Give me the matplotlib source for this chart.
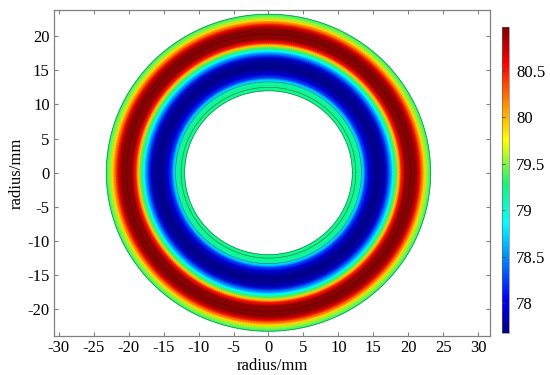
import numpy as np
import matplotlib
matplotlib.use("Agg")
import matplotlib.pyplot as plt
from matplotlib.colors import Normalize, LinearSegmentedColormap

plt.rcParams['font.family'] = ['Liberation Serif', 'DejaVu Serif']

# radial temperature profile (radius in mm, value)
radius = [12.0, 12.7, 13.2, 13.5, 13.9, 14.4, 15.2, 16.0, 16.8, 17.3, 17.8,
          18.2, 18.6, 19.0, 19.5, 20.3, 21.0, 21.5, 21.9, 22.3, 22.7, 23.2]
value = [79.22, 79.2, 79.1, 78.75, 78.25, 77.92, 77.72, 77.72, 77.88, 78.35, 78.85,
         79.35, 79.9, 80.5, 80.85, 80.95, 80.9, 80.7, 80.3, 79.9, 79.55, 79.25]
# domain boundary circles
boundaries = [12.0, 12.5, 13.3, 19.7, 20.3, 20.9, 23.2]

xticks = list(range(-30, 31, 5))
yticks = list(range(-20, 21, 5))
cbar_ticks = [78, 78.5, 79, 79.5, 80, 80.5]
vmin, vmax = 77.68, 80.97

# rainbow map close to the one in the picture (jet with a stronger green)
rainbow = LinearSegmentedColormap.from_list('rainbow_like', [
    (0.0, (0.0, 0.0, 0.5)),
    (0.11, (0.0, 0.0, 1.0)),
    (0.36, (0.0, 1.0, 1.0)),
    (0.49, (0.1, 0.95, 0.45)),
    (0.63, (1.0, 1.0, 0.0)),
    (0.75, (1.0, 0.55, 0.0)),
    (0.88, (1.0, 0.0, 0.0)),
    (1.0, (0.5, 0.0, 0.0)),
])

fig = plt.figure(figsize=(5.5, 3.75), dpi=100)
ax = fig.add_axes([0.098, 0.104, 0.793, 0.869])

# build the polar mesh from the profile
theta = np.linspace(0, 2 * np.pi, 361)
R, TH = np.meshgrid(np.array(radius), theta)
C, _ = np.meshgrid(np.array(value), theta)
X = R * np.cos(TH)
Y = R * np.sin(TH)
mesh = ax.pcolormesh(X, Y, C, cmap=rainbow, norm=Normalize(vmin, vmax), shading='gouraud')

for r in boundaries:
    ax.plot(r * np.cos(theta), r * np.sin(theta), color='#202020', lw=0.4, alpha=0.6)

ax.set_xlim(-30.7, 31.7)
ax.set_ylim(-23.9, 23.8)
ax.set_xticks(xticks)
ax.set_yticks(yticks)
ax.tick_params(direction='in', top=True, right=True, length=3, color='#808080',
               labelsize=12, pad=3)
ax.set_xticklabels([str(t) for t in xticks])
ax.set_yticklabels([str(t) for t in yticks])
for s in ax.spines.values():
    s.set_color('#808080')
    s.set_linewidth(0.9)
ax.set_xlabel('radius/mm', fontsize=12, labelpad=1)
ax.set_ylabel('radius/mm', fontsize=12, labelpad=2)

cax = fig.add_axes([0.913, 0.112, 0.0127, 0.816])
cb = fig.colorbar(mesh, cax=cax, ticks=cbar_ticks)
cb.outline.set_linewidth(0.4)
cb.outline.set_edgecolor('#606060')
cax.tick_params(direction='in', length=2, width=0.6, color='#404040',
                left=True, right=False, labelright=True, labelsize=12, pad=5)
cax.set_yticklabels([('%g' % t) for t in cbar_ticks])

fig.savefig('out.png', dpi=100)
